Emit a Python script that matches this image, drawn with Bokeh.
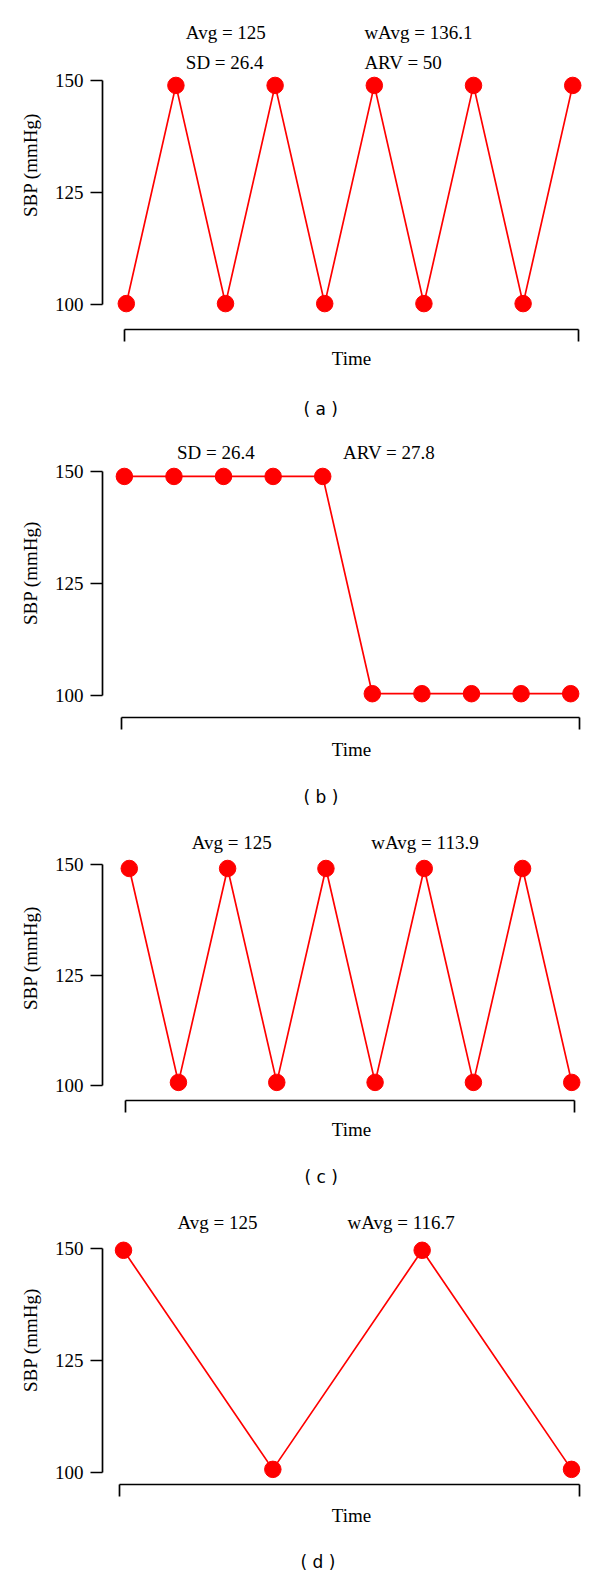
from bokeh.plotting import figure
from bokeh.layouts import column
from bokeh.models import (FixedTicker, Title, ColumnDataSource, CustomLabelingPolicy,
                          LinearAxis)
from bokeh.core.properties import value
from bokeh.embed import file_html
from bokeh.resources import INLINE

# ---------------- data ----------------
time_a = [1, 2, 3, 4, 5, 6, 7, 8, 9, 10]
sbp_a = [100.2, 148.9, 100.2, 148.9, 100.2, 148.9, 100.2, 148.9, 100.2, 148.9]

time_b = [1, 2, 3, 4, 5, 6, 7, 8, 9, 10]
sbp_b = [148.9, 148.9, 148.9, 148.9, 148.9, 100.4, 100.4, 100.4, 100.4, 100.4]

time_c = [1, 2, 3, 4, 5, 6, 7, 8, 9, 10]
sbp_c = [149.1, 100.7, 149.1, 100.7, 149.1, 100.7, 149.1, 100.7, 149.1, 100.7]

time_d = [1, 4, 7, 10]
sbp_d = [149.6, 100.7, 149.6, 100.7]

y_ticks = [100, 125, 150]

notes_a = ["Avg = 125", "SD = 26.4", "wAvg = 136.1", "ARV = 50"]
notes_b = ["SD = 26.4", "ARV = 27.8"]
notes_c = ["Avg = 125", "wAvg = 113.9"]
notes_d = ["Avg = 125", "wAvg = 116.7"]

captions = ["( a )", "( b )", "( c )", "( d )"]
y_label = "SBP (mmHg)"
x_label = "Time"

# ---------------- layout (page pixel positions; the page has no body margin) ----------------
PAGE_W = 600
FRAME_RIGHT = 600
CAP_HALF_W = 17
NOTE_DX = -3
LABEL_H = 22
panels = [
    dict(t=time_a, v=sbp_a, notes=notes_a, cap=captions[0],
         top=0, bottom=428, yax=98, y150=80, y100=304, x1=122, x10=572,
         bl=120, br=578, by=329, time_y=357, cap_x=316, cap_y=407,
         note_pos=[(185, 32), (185, 62), (365, 32), (365, 62)]),
    dict(t=time_b, v=sbp_b, notes=notes_b, cap=captions[1],
         top=428, bottom=815, yax=99, y150=471, y100=695, x1=121, x10=570,
         bl=118, br=579, by=717, time_y=748, cap_x=317, cap_y=795,
         note_pos=[(177, 452), (344, 452)]),
    dict(t=time_c, v=sbp_c, notes=notes_c, cap=captions[2],
         top=815, bottom=1195, yax=98, y150=864, y100=1085, x1=125, x10=571,
         bl=121, br=574, by=1100, time_y=1128, cap_x=317, cap_y=1175,
         note_pos=[(191, 842), (372, 842)]),
    dict(t=time_d, v=sbp_d, notes=notes_d, cap=captions[3],
         top=1195, bottom=1575, yax=102, y150=1248, y100=1472, x1=123, x10=571,
         bl=119, br=579, by=1484, time_y=1514, cap_x=317, cap_y=1560,
         note_pos=[(180, 1222), (350, 1222)]),
]

SERIF = "Liberation Serif"
SANS = "DejaVu Sans"
RED = "#FF0000"
LW = 1.7

hide_labels = CustomLabelingPolicy(code="""
for (const i of indices)
    indices.unset(i)
""")

figs = []
for P in panels:
    ky = (P["y100"] - P["y150"]) / 50.0
    kx = (P["x10"] - P["x1"]) / 9.0
    y_top = 150 + (P["y150"] - P["top"]) / ky
    y_bot = 100 - (P["by"] - P["y100"]) / ky
    x_lo = 1 - (P["x1"] - P["yax"]) / kx
    x_hi = 10 + (FRAME_RIGHT - P["x10"]) / kx
    b_lo = 1 - (P["x1"] - P["bl"]) / kx
    b_hi = 10 + (P["br"] - P["x10"]) / kx

    p = figure(width=PAGE_W, height=P["bottom"] - P["top"],
               x_range=(x_lo, x_hi), y_range=(y_bot, y_top),
               output_backend="svg", toolbar_location=None, title=None,
               min_border_left=P["yax"], min_border_right=PAGE_W - FRAME_RIGHT,
               min_border_top=0, min_border_bottom=P["bottom"] - P["by"])
    p.outline_line_color = None
    p.grid.visible = False
    p.background_fill_color = "white"
    p.border_fill_color = "white"

    # y axis (R style, spanning the tick range only)
    ya = p.yaxis[0]
    ya.ticker = FixedTicker(ticks=y_ticks)
    ya.bounds = (100, 150)
    ya.axis_line_width = LW
    ya.axis_line_color = "black"
    ya.major_tick_line_width = LW
    ya.major_tick_out = 12
    ya.major_tick_in = 0
    ya.minor_tick_line_color = None
    ya.major_label_standoff = 7
    ya.major_label_text_font = SERIF
    ya.major_label_text_font_size = "19px"
    ya.major_label_text_color = "black"
    ya.axis_label = y_label
    ya.axis_label_text_font = SERIF
    ya.axis_label_text_font_size = "19px"
    ya.axis_label_text_font_style = "normal"
    ya.axis_label_text_color = "black"
    ya.axis_label_standoff = 11

    # x axis: bracket with end ticks only, no tick labels
    lab_standoff = P["time_y"] - P["by"] - 12 - 10
    xa = p.xaxis[0]
    xa.ticker = FixedTicker(ticks=[b_lo, b_hi])
    xa.bounds = (b_lo, b_hi)
    xa.axis_line_width = LW
    xa.axis_line_color = "black"
    xa.major_tick_line_width = LW
    xa.major_tick_out = 12
    xa.major_tick_in = 0
    xa.minor_tick_line_color = None
    xa.major_label_policy = hide_labels
    xa.major_label_text_font_size = "0px"
    xa.major_label_standoff = 0
    xa.axis_label = x_label
    xa.axis_label_text_font = SERIF
    xa.axis_label_text_font_size = "19px"
    xa.axis_label_text_font_style = "normal"
    xa.axis_label_text_color = "black"
    xa.axis_label_standoff = lab_standoff

    # blank spacer between the x axis and the caption (a single white tick)
    axis_h = 12 + lab_standoff + LABEL_H
    gap = P["cap_y"] - (P["by"] + axis_h) - 15
    spacer = LinearAxis(ticker=FixedTicker(ticks=[b_lo]), bounds=(b_lo, b_lo),
                        axis_line_color="white", major_tick_out=gap, major_tick_in=0,
                        major_tick_line_color="white", major_tick_line_width=1,
                        minor_tick_line_color=None, major_label_policy=hide_labels,
                        major_label_text_font_size="0px", major_label_standoff=0)
    p.add_layout(spacer, "below")

    src = ColumnDataSource(dict(t=P["t"], v=P["v"]))
    p.line("t", "v", source=src, line_color=RED, line_width=LW)
    p.scatter("t", "v", source=src, size=16.5, fill_color=RED, line_color=RED)

    nx = [1 + (px + NOTE_DX - P["x1"]) / kx for px, py in P["note_pos"]]
    ny = [150 + (P["y150"] - py) / ky for px, py in P["note_pos"]]
    p.text(x=nx, y=ny, text=P["notes"], text_font=value(SERIF), text_font_size="19px",
           text_align="left", text_baseline="middle", text_color="black")

    cap = Title(text=P["cap"], align="left", offset=P["cap_x"] - CAP_HALF_W - P["yax"],
                text_font=SANS, text_font_size="17px", text_font_style="normal",
                text_color="black", standoff=4)
    p.add_layout(cap, "below")
    figs.append(p)

layout = column(*figs, spacing=0)
open("out.html", "w").write(file_html(layout, INLINE))
